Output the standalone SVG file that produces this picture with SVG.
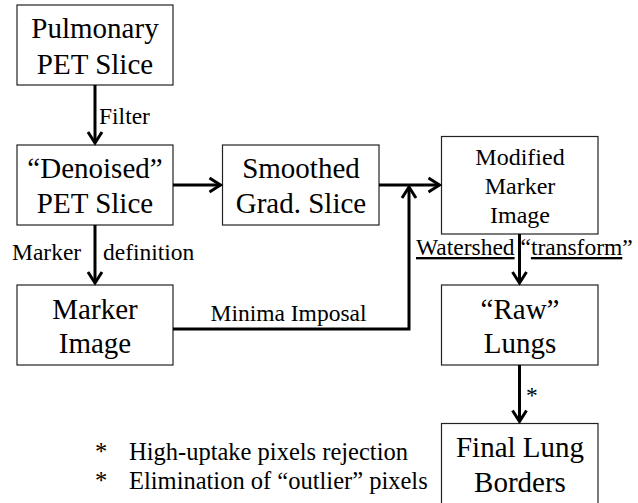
<svg xmlns="http://www.w3.org/2000/svg" width="638" height="503" viewBox="0 0 638 503" font-family="'Liberation Serif', 'Times New Roman', serif">
<defs>
<style>
.box{fill:#fff;stroke:#222;stroke-width:1.2}
.t{fill:#000;text-anchor:middle}
.big{font-size:29px}
.mid{font-size:24px}
.lbl{font-size:23.5px;fill:#000}
.note{font-size:24.5px;fill:#000}
.ln{fill:none;stroke:#000;stroke-width:3}
</style>
<marker id="ah" markerUnits="userSpaceOnUse" markerWidth="20" markerHeight="20" viewBox="-14 -10 20 20" refX="0" refY="0" orient="auto">
<path d="M-11,-7 L0,0 L-11,7" fill="none" stroke="#000" stroke-width="3"/>
</marker>
</defs>
<g id="n_pulmonary">
<rect class="box" x="17" y="5" width="156" height="80"/>
<text class="t big" x="95" y="38">Pulmonary</text>
<text class="t big" x="95" y="74">PET Slice</text>
</g>
<g id="n_denoised">
<rect class="box" x="17" y="145" width="156" height="80"/>
<text class="t big" x="95" y="177.5">“Denoised”</text>
<text class="t big" x="95" y="213">PET Slice</text>
</g>
<g id="n_smoothed">
<rect class="box" x="222.5" y="145" width="156.5" height="80"/>
<text class="t big" x="301" y="177.5">Smoothed</text>
<text class="t big" x="301" y="213">Grad. Slice</text>
</g>
<g id="n_modified">
<rect class="box" x="441.5" y="136.5" width="156.5" height="97.5"/>
<text class="t mid" x="520" y="165">Modified</text>
<text class="t mid" x="520" y="194">Marker</text>
<text class="t mid" x="520" y="223">Image</text>
</g>
<g id="n_marker">
<rect class="box" x="17" y="285" width="156" height="80"/>
<text class="t big" x="95" y="318.5">Marker</text>
<text class="t big" x="95" y="352.5">Image</text>
</g>
<g id="n_raw">
<rect class="box" x="441.5" y="285" width="156.5" height="80"/>
<text class="t big" x="520" y="318.5">“Raw”</text>
<text class="t big" x="520" y="353">Lungs</text>
</g>
<g id="n_final">
<rect class="box" x="441.5" y="423.5" width="156.5" height="90"/>
<text class="t big" x="520" y="456.5">Final Lung</text>
<text class="t big" x="520" y="491.5">Borders</text>
</g>
<g id="connectors">
<line class="ln" x1="95" y1="85" x2="95" y2="143" marker-end="url(#ah)"/>
<line class="ln" x1="95" y1="225" x2="95" y2="283" marker-end="url(#ah)"/>
<line class="ln" x1="173" y1="185" x2="220.5" y2="185" marker-end="url(#ah)"/>
<line class="ln" x1="379" y1="185" x2="439.5" y2="185" marker-end="url(#ah)"/>
<polyline class="ln" points="173,329 409,329 409,187" marker-end="url(#ah)"/>
<line class="ln" x1="519.5" y1="234" x2="519.5" y2="283" marker-end="url(#ah)"/>
<line class="ln" x1="519.5" y1="365" x2="519.5" y2="421.5" marker-end="url(#ah)"/>
</g>
<g id="labels">
<text class="lbl" x="99" y="124">Filter</text>
<text class="lbl" x="12" y="260">Marker</text>
<text class="lbl" x="103" y="260">definition</text>
<text class="lbl" x="210.5" y="320.5">Minima Imposal</text>
<text class="lbl" x="416" y="255"><tspan text-decoration="underline">Watershed</tspan> “<tspan text-decoration="underline">transform</tspan>”</text>
<text class="lbl" x="526" y="402.5">*</text>
</g>
<g id="notes">
<text class="note" x="95" y="460">*</text>
<text class="note" x="129" y="460">High-uptake pixels rejection</text>
<text class="note" x="95" y="488.5">*</text>
<text class="note" x="129" y="488.5">Elimination of “outlier” pixels</text>
</g>
</svg>
